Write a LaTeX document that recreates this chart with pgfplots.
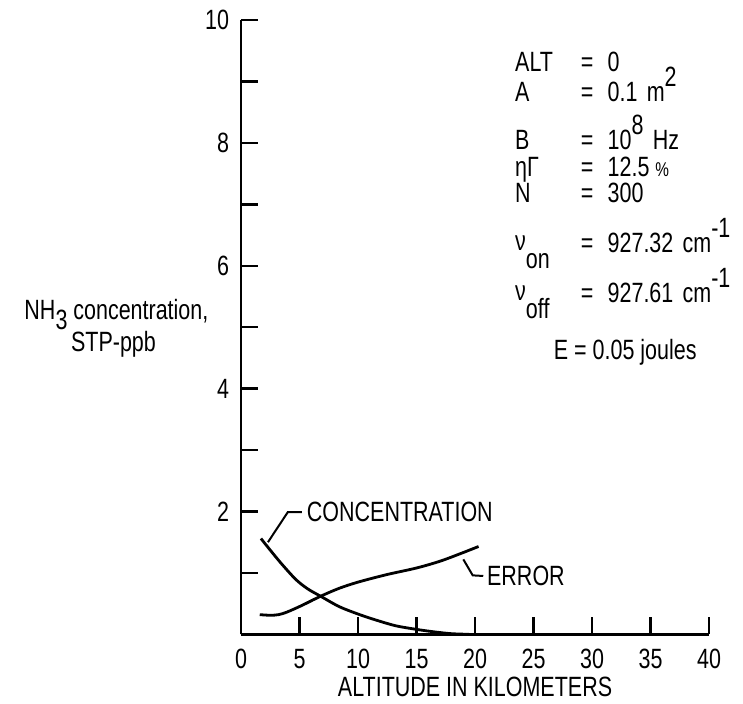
\documentclass[border=0pt]{standalone}
\usepackage{fontspec}
\setmainfont{Liberation Sans}[FakeStretch=0.77]
\usepackage{pgfplots}
\pgfplotsset{compat=1.18}

% curves
\pgfplotstableread{
x     y
1.7   1.56
2.5   1.37
3.5   1.14
4.7   0.89
5.7   0.74
6.8   0.62
8.4   0.45
10.0  0.33
11.4  0.24
13.2  0.14
15.0  0.08
16.5  0.04
18.0  0.01
19.5  0.0
}\concdata
\pgfplotstableread{
x     y
1.6   0.32
2.5   0.31
3.2   0.32
3.9   0.36
5.2   0.47
6.8   0.62
8.4   0.75
10.0  0.85
12.4  0.97
15.0  1.08
17.0  1.19
18.7  1.31
20.3  1.43
}\errdata

\newcommand\up[1]{\raisebox{7.5bp}{#1}}
\newcommand\dn[1]{\raisebox{-9bp}{#1}}

\begin{document}
\begin{tikzpicture}[font=\fontsize{14}{15}\selectfont]
  \begin{axis}[
      scale only axis,
      width=234bp, height=307bp,
      xmin=0, xmax=40, ymin=0, ymax=10,
      axis x line*=bottom, axis y line*=left,
      axis line style={-, line width=1.4bp},
      xtick={0,5,...,40},
      ytick={2,4,6,8,10},
      minor ytick={1,3,5,7,9},
      tick align=inside,
      major tick length=8.5bp, minor tick length=8.5bp,
      every tick/.style={black, line width=1.2bp},
      /pgf/number format/assume math mode=true,
      xticklabel style={yshift=-4bp},
      yticklabel style={xshift=-2.5bp},
      xlabel={ALTITUDE IN KILOMETERS},
      xlabel style={yshift=3bp},
      clip=false,
    ]
    \addplot[black, line width=1.4bp, smooth, no markers] table[x=x, y=y] {\concdata};
    \addplot[black, line width=1.4bp, smooth, no markers] table[x=x, y=y] {\errdata};

    % leaders and curve names
    \draw[line width=1bp] (axis cs:2.3,1.50) -- (axis cs:4.0,1.99) -- (axis cs:5.2,1.99);
    \node[anchor=base west, inner sep=0pt] at (axis cs:5.6,1.83) {CONCENTRATION};
    \draw[line width=1bp] (axis cs:19.0,1.22) -- (axis cs:19.8,0.96) -- (axis cs:20.7,0.95);
    \node[anchor=base west, inner sep=0pt] at (axis cs:21.0,0.79) {ERROR};

    % y label, two lines
    \node[anchor=base, inner sep=0pt] at (axis cs:-10.65,5.12) {NH\raisebox{-5bp}{3} concentration,};
    \node[anchor=base, inner sep=0pt] at (axis cs:-10.9,4.6) {STP-ppb};

    % parameter block
    \node[anchor=base west, inner sep=0pt] at (axis cs:23.4,9.16) {ALT};
    \node[anchor=base west, inner sep=0pt] at (axis cs:29.0,9.16) {=};
    \node[anchor=base west, inner sep=0pt] at (axis cs:31.3,9.16) {0};
    \node[anchor=base west, inner sep=0pt] at (axis cs:23.4,8.67) {A};
    \node[anchor=base west, inner sep=0pt] at (axis cs:29.0,8.67) {=};
    \node[anchor=base west, inner sep=0pt] at (axis cs:31.3,8.67) {0.1\,\,m\up{2}};
    \node[anchor=base west, inner sep=0pt] at (axis cs:23.4,7.89) {B};
    \node[anchor=base west, inner sep=0pt] at (axis cs:29.0,7.89) {=};
    \node[anchor=base west, inner sep=0pt] at (axis cs:31.3,7.89) {10\up{8}\,\,Hz};
    \node[anchor=base west, inner sep=0pt] at (axis cs:23.4,7.46) {ηΓ};
    \node[anchor=base west, inner sep=0pt] at (axis cs:29.0,7.46) {=};
    \node[anchor=base west, inner sep=0pt] at (axis cs:31.3,7.46) {12.5 {\fontsize{10}{10}\selectfont\%}};
    \node[anchor=base west, inner sep=0pt] at (axis cs:23.4,7.04) {N};
    \node[anchor=base west, inner sep=0pt] at (axis cs:29.0,7.04) {=};
    \node[anchor=base west, inner sep=0pt] at (axis cs:31.3,7.04) {300};
    \node[anchor=base west, inner sep=0pt] at (axis cs:23.4,6.25) {ν\dn{on}};
    \node[anchor=base west, inner sep=0pt] at (axis cs:29.0,6.22) {=};
    \node[anchor=base west, inner sep=0pt] at (axis cs:31.3,6.22) {927.32\,\,cm\up{-1}};
    \node[anchor=base west, inner sep=0pt] at (axis cs:23.4,5.44) {ν\dn{off}};
    \node[anchor=base west, inner sep=0pt] at (axis cs:29.0,5.41) {=};
    \node[anchor=base west, inner sep=0pt] at (axis cs:31.3,5.41) {927.61\,\,cm\up{-1}};
    \node[anchor=base west, inner sep=0pt] at (axis cs:26.7,4.48) {E = 0.05 joules};

    % page frame in the reference's proportions
    \path (axis cs:-20.6,-1.075) rectangle (axis cs:42.9,10.33);
  \end{axis}
\end{tikzpicture}
\end{document}
